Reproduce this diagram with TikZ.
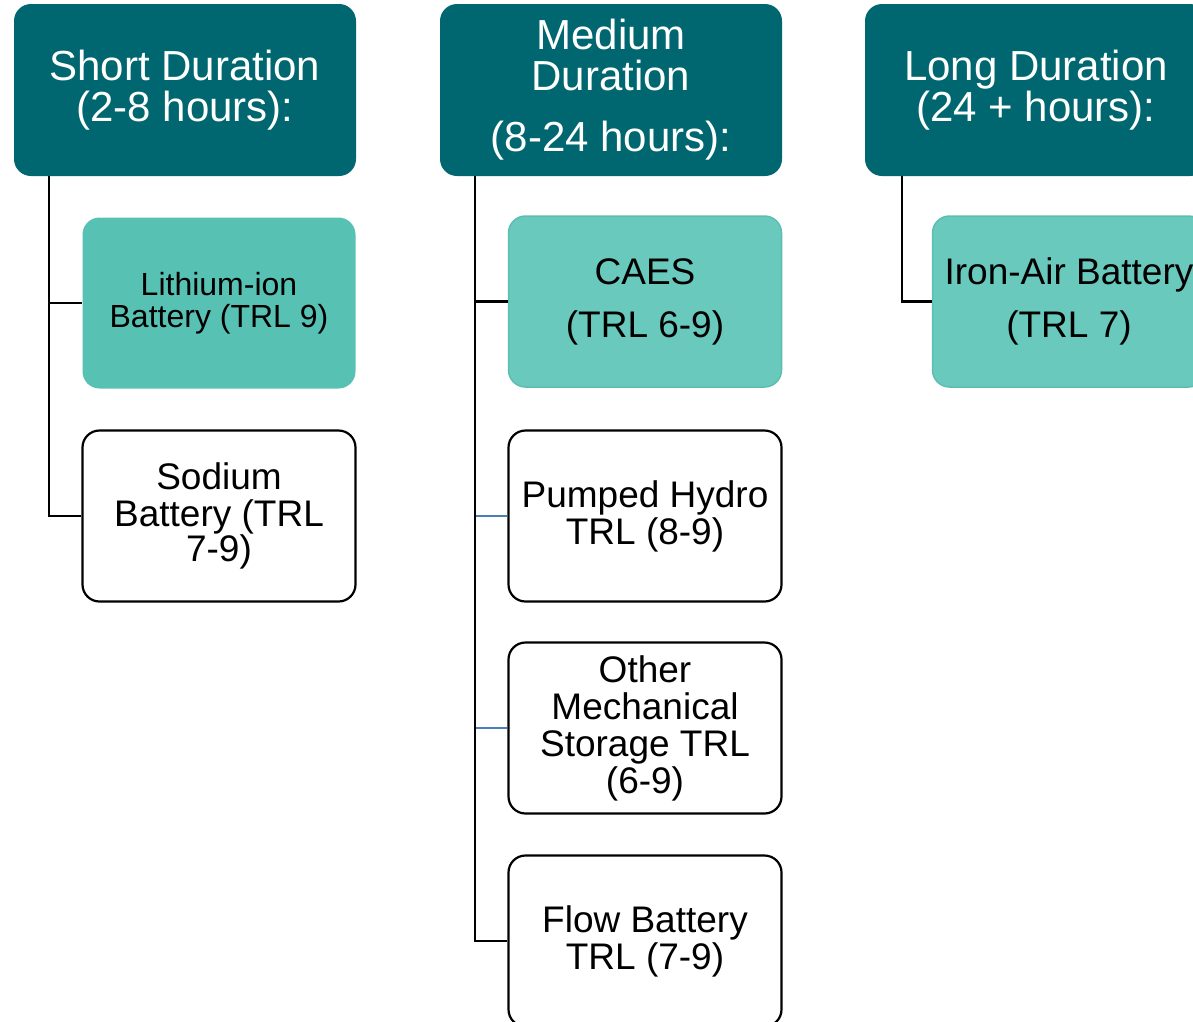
\documentclass[tikz,border=0pt]{standalone}
\usepackage{fontspec}
\setmainfont{Liberation Sans}
\definecolor{hdr}{RGB}{0,103,112}
\definecolor{lithfill}{RGB}{87,193,180}
\definecolor{caesfill}{RGB}{104,201,188}
\definecolor{caesdraw}{RGB}{92,190,176}
\definecolor{linkblue}{RGB}{74,126,187}
\begin{document}
\begin{tikzpicture}[x=1pt,y=-1pt,
  header/.style={rectangle, rounded corners=17pt, fill=hdr, text=white, align=center,
    minimum width=342pt, minimum height=172pt, inner sep=0pt,
    font=\fontsize{42}{41}\selectfont},
  childbox/.style={rectangle, rounded corners=17pt, align=center,
    minimum width=273pt, minimum height=171pt, inner sep=0pt,
    font=\fontsize{37}{37}\selectfont},
  whitebox/.style={childbox, draw=black, line width=2.2pt, fill=white},
  lithbox/.style={childbox, fill=lithfill, font=\fontsize{32}{32}\selectfont},
  caesbox/.style={childbox, fill=caesfill, draw=caesdraw, line width=1.5pt},
  link/.style={draw=black, line width=2.2pt},
  bluelink/.style={draw=linkblue, line width=2pt}]
\useasboundingbox (0,0) rectangle (1193,1021);
\clip (0,0) rectangle (1193,1021);
% headers
\node[header] (sh) at (185,90) {Short Duration\\(2-8 hours):};
\node[header] (md) at (611,90) {Medium\\Duration\\[20pt](8-24 hours):};
\node[header] (lg) at (1036,90) {Long Duration\\(24 + hours):};
% children
\node[lithbox] (li) at (219,303) {Lithium-ion\\Battery (TRL 9)};
\node[whitebox] (so) at (219,516) {Sodium\\Battery (TRL\\[-2pt]7-9)};
\node[caesbox] (ca) at (645,301.5) {CAES\\[16pt](TRL 6-9)};
\node[whitebox] (pu) at (645,516) {Pumped Hydro\\TRL (8-9)};
\node[whitebox] (ot) at (645,728) {Other\\Mechanical\\Storage TRL\\(6-9)};
\node[whitebox] (fl) at (645,941) {Flow Battery\\TRL (7-9)};
\node[caesbox] (ir) at (1069,301.5) {Iron-Air Battery\\[16pt](TRL 7)};
% connector anchors
\coordinate (sx) at ([xshift=35pt]sh.south west);
\coordinate (mx) at ([xshift=35pt]md.south west);
\coordinate (lx) at ([xshift=37pt]lg.south west);
% short
\draw[link] (sx) |- (li.west);
\draw[link] (sx) |- (so.west);
% medium
\draw[bluelink] (mx |- pu.west) -- (pu.west);
\draw[bluelink] (mx |- ot.west) -- (ot.west);
\draw[link] (mx) |- (ca.west);
\draw[link] (mx) |- (fl.west);
% long
\draw[link] (lx) |- (ir.west);
\end{tikzpicture}
\end{document}
